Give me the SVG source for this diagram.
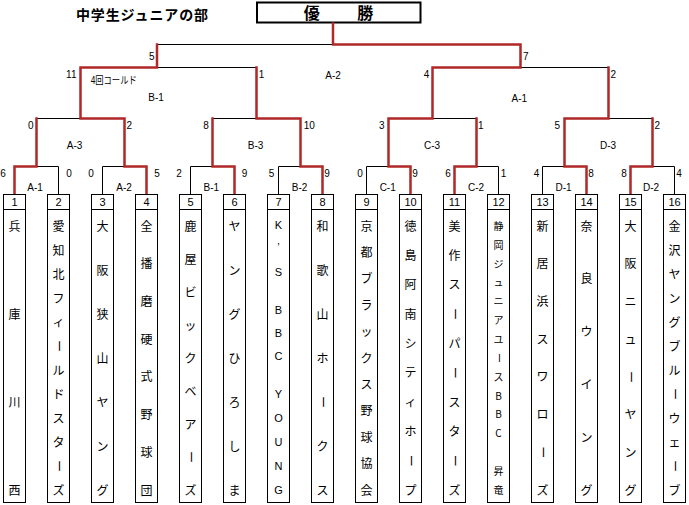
<svg xmlns="http://www.w3.org/2000/svg" width="689" height="505" viewBox="0 0 689 505">
<style>
.blk{fill:none;stroke:#000;stroke-width:1}
.red{fill:none;stroke:#b02828;stroke-width:2.5;stroke-linejoin:miter;stroke-linecap:square}
.box{fill:#fff;stroke:#000;stroke-width:1}
.sc{font-family:"Liberation Sans",sans-serif;font-size:10px;text-anchor:middle;fill:#000}
.num{font-family:"Liberation Sans",sans-serif;font-size:11px;text-anchor:middle;fill:#000}
.nm{font-family:"Noto Sans CJK JP",sans-serif;font-size:12px;text-anchor:middle;fill:#000}
.nm10{font-family:"Noto Sans CJK JP",sans-serif;font-size:10px;text-anchor:middle;fill:#000}
.lat{font-family:"Liberation Sans",sans-serif;font-size:11px;text-anchor:middle;fill:#000}
.ttl{font-family:"Noto Sans CJK JP",sans-serif;font-weight:bold;fill:#000}
</style>
<rect width="689" height="505" fill="#fff"/>
<text class="ttl" x="76" y="19.5" font-size="14" textLength="132" lengthAdjust="spacing">中学生ジュニアの部</text>
<g id="champion">
<rect x="257" y="2.5" width="163.5" height="20" fill="#fff" stroke="#000" stroke-width="2"/>
<text class="ttl" x="311.7" y="19" font-size="16" text-anchor="middle">優</text>
<text class="ttl" x="365.3" y="19" font-size="16" text-anchor="middle">勝</text>
</g>
<g id="connectors">
<path class="blk" d="M14.5 194V166.5H58.5V194M36.5 166.5V118.5M102.5 194V166.5H146.5V194M124.5 166.5V118.5M190.5 194V166.5H234.5V194M212.5 166.5V118.5M278.5 194V166.5H322.5V194M300.5 166.5V118.5M366.5 194V166.5H410.5V194M388.5 166.5V118.5M454.5 194V166.5H498.5V194M476.5 166.5V118.5M542.5 194V166.5H586.5V194M564.5 166.5V118.5M630.5 194V166.5H674.5V194M652.5 166.5V118.5M36.5 118.5H124.5M80.5 118.5V67.5M212.5 118.5H300.5M256.5 118.5V67.5M388.5 118.5H476.5M432.5 118.5V67.5M564.5 118.5H652.5M608.5 118.5V67.5M80.5 67.5H256.5M157 67.5V44.5M432.5 67.5H608.5M520.5 67.5V44.5M157 44.5H520.5M333 44.5V23"/>
<path class="red" d="M14.5 194V166.5H36.5V118.5"/>
<path class="red" d="M146.5 194V166.5H124.5V118.5H80.5V67.5H157V44.5"/>
<path class="red" d="M234.5 194V166.5H212.5V118.5"/>
<path class="red" d="M322.5 194V166.5H300.5V118.5H256.5V67.5"/>
<path class="red" d="M410.5 194V166.5H388.5V118.5H432.5V67.5H520.5V44.5H333V23.5"/>
<path class="red" d="M454.5 194V166.5H476.5V118.5"/>
<path class="red" d="M586.5 194V166.5H564.5V118.5H608.5V67.5"/>
<path class="red" d="M630.5 194V166.5H652.5V118.5"/>
</g>
<g id="labels">
<text class="sc" x="3" y="176.6">6</text><text class="sc" x="69" y="176.6">0</text>
<text class="sc" x="91" y="176.6">0</text><text class="sc" x="157" y="176.6">5</text>
<text class="sc" x="179" y="176.6">2</text><text class="sc" x="244.5" y="176.6">9</text>
<text class="sc" x="271.5" y="176.6">5</text><text class="sc" x="327" y="176.6">9</text>
<text class="sc" x="360" y="176.6">0</text><text class="sc" x="415" y="176.6">9</text>
<text class="sc" x="448" y="176.6">6</text><text class="sc" x="503.5" y="176.6">1</text>
<text class="sc" x="536.5" y="176.6">4</text><text class="sc" x="591" y="176.6">8</text>
<text class="sc" x="624" y="176.6">8</text><text class="sc" x="679" y="176.6">4</text>
<text class="sc" x="30.7" y="128.6">0</text><text class="sc" x="129.3" y="128.6">2</text>
<text class="sc" x="206" y="128.6">8</text><text class="sc" x="309.3" y="128.6">10</text>
<text class="sc" x="381.7" y="128.6">3</text><text class="sc" x="480.7" y="128.6">1</text>
<text class="sc" x="557.3" y="128.6">5</text><text class="sc" x="657.3" y="128.6">2</text>
<text class="sc" x="71.3" y="77.6">11</text><text class="sc" x="261.5" y="77.6">1</text>
<text class="sc" x="426.5" y="77.6">4</text><text class="sc" x="613.3" y="77.6">2</text>
<text class="sc" x="151.7" y="59.6">5</text><text class="sc" x="525.7" y="59.6">7</text>
<text class="sc" x="35" y="190.9">A-1</text><text class="sc" x="124" y="190.9">A-2</text>
<text class="sc" x="211.3" y="190.9">B-1</text><text class="sc" x="299.5" y="190.9">B-2</text>
<text class="sc" x="387.7" y="190.9">C-1</text><text class="sc" x="476" y="190.9">C-2</text>
<text class="sc" x="563.5" y="190.9">D-1</text><text class="sc" x="651" y="190.9">D-2</text>
<text class="sc" x="74.5" y="149.1">A-3</text><text class="sc" x="255.5" y="149.1">B-3</text>
<text class="sc" x="432" y="149.1">C-3</text><text class="sc" x="608" y="149.1">D-3</text>
<text class="sc" x="156" y="101.3">B-1</text><text class="sc" x="519.3" y="101.9">A-1</text>
<text class="sc" x="333" y="78.6">A-2</text>
<text x="90.7" y="84" font-family="Liberation Sans,Noto Sans CJK JP,sans-serif" font-size="10" textLength="46" lengthAdjust="spacingAndGlyphs" fill="#000">4回コールド</text>
</g>
<g id="team1"><rect class="box" x="3.5" y="194.5" width="22" height="15"/><rect class="box" x="3.5" y="209.5" width="22" height="293"/><text class="num" x="14.5" y="206">1</text>
<text class="nm" x="14.5 14.5 14.5 14.5" y="230.5 318.5 406.5 494.5">兵庫川西</text></g>
<g id="team2"><rect class="box" x="47.5" y="194.5" width="22" height="15"/><rect class="box" x="47.5" y="209.5" width="22" height="293"/><text class="num" x="58.5" y="206">2</text>
<text class="nm" x="58.5 58.5 58.5 58.5 58.5 59.94 58.5 58.5 58.5 58.5 59.94 58.5" y="230.5 254.5 278.5 302.5 326.5 340 374.5 398.5 422.5 446.5 460 494.5" rotate="0 0 0 0 0 90 0 0 0 0 90 0">愛知北フィールドスターズ</text></g>
<g id="team3"><rect class="box" x="91.5" y="194.5" width="22" height="15"/><rect class="box" x="91.5" y="209.5" width="22" height="293"/><text class="num" x="102.5" y="206">3</text>
<text class="nm" x="102.5 102.5 102.5 102.5 102.5 102.5 102.5" y="230.5 274.5 318.5 362.5 406.5 450.5 494.5">大阪狭山ヤング</text></g>
<g id="team4"><rect class="box" x="135.5" y="194.5" width="22" height="15"/><rect class="box" x="135.5" y="209.5" width="22" height="293"/><text class="num" x="146.5" y="206">4</text>
<text class="nm" x="146.5 146.5 146.5 146.5 146.5 146.5 146.5 146.5" y="230.5 268.2 305.9 343.6 381.4 419.1 456.8 494.5">全播磨硬式野球団</text></g>
<g id="team5"><rect class="box" x="179.5" y="194.5" width="22" height="15"/><rect class="box" x="179.5" y="209.5" width="22" height="293"/><text class="num" x="190.5" y="206">5</text>
<text class="nm" x="190.5 190.5 190.5 190.5 190.5 190.5 190.5 191.94 190.5" y="230.5 263.5 296.5 329.5 362.5 395.5 428.5 451 494.5" rotate="0 0 0 0 0 0 0 90 0">鹿屋ビックベアーズ</text></g>
<g id="team6"><rect class="box" x="223.5" y="194.5" width="22" height="15"/><rect class="box" x="223.5" y="209.5" width="22" height="293"/><text class="num" x="234.5" y="206">6</text>
<text class="nm" x="234.5 234.5 234.5 234.5 234.5 234.5 234.5" y="230.5 274.5 318.5 362.5 406.5 450.5 494.5">ヤングひろしま</text></g>
<g id="team7"><rect class="box" x="267.5" y="194.5" width="22" height="15"/><rect class="box" x="267.5" y="209.5" width="22" height="293"/><text class="num" x="278.5" y="206">7</text>
<text class="lat" x="278.5 278.5 278.5 278.5 278.5 278.5 278.5 278.5 278.5 278.5 278.5 278.5 278.5" y="229 251 275.7 295 314 337.3 359.7 379 398 422.3 445.7 470 494">K’S BBC YOUNG</text></g>
<g id="team8"><rect class="box" x="311.5" y="194.5" width="22" height="15"/><rect class="box" x="311.5" y="209.5" width="22" height="293"/><text class="num" x="322.5" y="206">8</text>
<text class="nm" x="322.5 322.5 322.5 322.5 323.94 322.5 322.5" y="230.5 274.5 318.5 362.5 396 450.5 494.5" rotate="0 0 0 0 90 0 0">和歌山ホークス</text></g>
<g id="team9"><rect class="box" x="355.5" y="194.5" width="22" height="15"/><rect class="box" x="355.5" y="209.5" width="22" height="293"/><text class="num" x="366.5" y="206">9</text>
<text class="nm" x="366.5 366.5 366.5 366.5 366.5 366.5 366.5 366.5 366.5 366.5 366.5" y="230.5 256.9 283.3 309.7 336.1 362.5 388.9 415.3 441.7 468.1 494.5">京都ブラックス野球協会</text></g>
<g id="team10"><rect class="box" x="399.5" y="194.5" width="22" height="15"/><rect class="box" x="399.5" y="209.5" width="22" height="293"/><text class="num" x="410.5" y="206">10</text>
<text class="nm" x="410.5 410.5 410.5 410.5 410.5 410.5 410.5 410.5 411.94 410.5" y="230.5 259.8 289.2 318.5 347.8 377.2 406.5 435.8 454.7 494.5" rotate="0 0 0 0 0 0 0 0 90 0">徳島阿南シティホープ</text></g>
<g id="team11"><rect class="box" x="443.5" y="194.5" width="22" height="15"/><rect class="box" x="443.5" y="209.5" width="22" height="293"/><text class="num" x="454.5" y="206">11</text>
<text class="nm" x="454.5 454.5 454.5 455.94 454.5 455.94 454.5 454.5 455.94 454.5" y="230.5 259.8 289.2 308 347.8 366.7 406.5 435.8 454.7 494.5" rotate="0 0 0 90 0 90 0 0 90 0">美作スーパースターズ</text></g>
<g id="team12"><rect class="box" x="487.5" y="194.5" width="22" height="15"/><rect class="box" x="487.5" y="209.5" width="22" height="293"/><text class="num" x="498.5" y="206">12</text>
<text class="nm10" x="498.5 498.5 498.5 498.5 498.5 498.5 498.5 499.7 498.5 498.5 498.5 498.5 498.5 498.5 498.5" y="229.8 248.7 267.5 286.4 305.2 324.1 342.9 353 380.7 399.5 418.4 437.2 456.1 474.9 493.8" rotate="0 0 0 0 0 0 0 90 0 0 0 0 0 0 0">静岡ジュニアユースBBC 昇竜</text></g>
<g id="team13"><rect class="box" x="531.5" y="194.5" width="22" height="15"/><rect class="box" x="531.5" y="209.5" width="22" height="293"/><text class="num" x="542.5" y="206">13</text>
<text class="nm" x="542.5 542.5 542.5 542.5 542.5 542.5 543.94 542.5" y="230.5 268.2 305.9 343.6 381.4 419.1 446.3 494.5" rotate="0 0 0 0 0 0 90 0">新居浜スワローズ</text></g>
<g id="team14"><rect class="box" x="575.5" y="194.5" width="22" height="15"/><rect class="box" x="575.5" y="209.5" width="22" height="293"/><text class="num" x="586.5" y="206">14</text>
<text class="nm" x="586.5 586.5 586.5 586.5 586.5 586.5" y="230.5 283.3 336.1 388.9 441.7 494.5">奈良ウイング</text></g>
<g id="team15"><rect class="box" x="619.5" y="194.5" width="22" height="15"/><rect class="box" x="619.5" y="209.5" width="22" height="293"/><text class="num" x="630.5" y="206">15</text>
<text class="nm" x="630.5 630.5 630.5 630.5 631.94 630.5 630.5 630.5" y="230.5 268.2 305.9 343.6 370.9 419.1 456.8 494.5" rotate="0 0 0 0 90 0 0 0">大阪ニューヤング</text></g>
<g id="team16"><rect class="box" x="663.5" y="194.5" width="22" height="15"/><rect class="box" x="663.5" y="209.5" width="22" height="293"/><text class="num" x="674.5" y="206">16</text>
<text class="nm" x="674.5 674.5 674.5 674.5 674.5 674.5 674.5 675.94 674.5 674.5 675.94 674.5" y="230.5 254.5 278.5 302.5 326.5 350.5 374.5 388 422.5 446.5 460 494.5" rotate="0 0 0 0 0 0 0 90 0 0 90 0">金沢ヤングブルーウェーブ</text></g>
</svg>
